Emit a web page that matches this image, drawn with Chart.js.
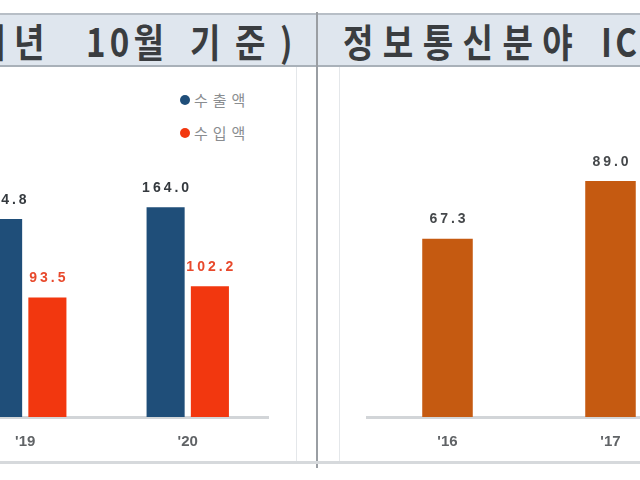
<!DOCTYPE html>
<html>
<head>
<meta charset="utf-8">
<script src="https://cdn.jsdelivr.net/npm/chart.js@4"></script>
<style>
  html, body { margin: 0; padding: 0; width: 640px; height: 480px; overflow: hidden; background: #fff; }
  .abs { position: absolute; }
  .band { left: 0; top: 13px; width: 640px; height: 50px; background: #dfe6ee;
          border-top: 2px solid #b7bec6; border-bottom: 2px solid #a9b1b9; }
  .title { top: 13px; font-family: "Noto Sans CJK KR", sans-serif; font-weight: bold;
           font-size: 39px; color: #3a3d40; white-space: pre; letter-spacing: 11px; line-height: 54px;
           transform: scaleX(0.85); transform-origin: left center; }
  .legend { font-family: "Noto Sans CJK KR", sans-serif; font-size: 15px; color: #8a8d90; left: 180px; letter-spacing: 5px; }
  .legend span { display: inline-block; width: 10px; height: 10px; border-radius: 50%; margin-right: 4px; vertical-align: 1px; }
</style>
</head>
<body>
<div class="abs band"></div>
<div class="abs" style="left:296px;top:67px;width:1px;height:395px;background:#e4e7ea"></div>
<div class="abs" style="left:339px;top:67px;width:1px;height:395px;background:#e4e7ea"></div>
<div class="abs" style="left:316px;top:12px;width:2px;height:456px;background:#9a9ea3"></div>
<div class="abs" style="left:0;top:461px;width:640px;height:3px;background:#d6d9dc"></div>

<div class="abs title" style="left:-25px;letter-spacing:10px">개년</div>
<div class="abs title" style="left:86px;letter-spacing:5px">10월</div>
<div class="abs title" style="left:190px;letter-spacing:17px">기준)</div>
<div class="abs title" style="left:343px">정보통신분야</div>
<div class="abs title" style="left:601px;letter-spacing:4px">IC</div>

<div class="abs legend" style="top:89px"><span style="background:#1f4e79"></span>수출액</div>
<div class="abs legend" style="top:122px"><span style="background:#f2370f"></span>수입액</div>

<div class="abs" style="left:-56px;top:91px"><canvas id="tradeChart" width="325" height="368"></canvas></div>
<div class="abs" style="left:366px;top:91px"><canvas id="ictChart" width="326" height="368"></canvas></div>

<script>
const tradeYears = ["'19", "'20"];
const exportValues = [154.8, 164.0];
const importValues = [93.5, 102.2];

const ictYears = ["'16", "'17"];
const ictValues = [67.3, 89.0];

// value labels above each bar
const valueLabels = {
  id: 'valueLabels',
  afterDatasetsDraw(chart) {
    const ctx = chart.ctx;
    ctx.save();
    ctx.font = 'bold 14px "Liberation Sans", Arial, sans-serif';
    ctx.letterSpacing = '3px';
    ctx.textAlign = 'center';
    ctx.textBaseline = 'middle';
    chart.data.datasets.forEach((ds, i) => {
      ctx.fillStyle = ds.labelColor;
      chart.getDatasetMeta(i).data.forEach((bar, j) => {
        ctx.fillText(ds.data[j].toFixed(1), bar.x + 1.5, bar.y - 19);
      });
    });
    ctx.restore();
  }
};

function axisOptions(yMax) {
  return {
    x: {
      grid: { display: false },
      border: { display: true, color: '#d2d5d8', width: 3 },
      ticks: { color: '#606366', padding: 8, font: { family: '"Liberation Sans", Arial, sans-serif', size: 15, weight: 'bold' } }
    },
    y: { display: false, min: 0, max: yMax }
  };
}

new Chart(document.getElementById('tradeChart'), {
  type: 'bar',
  data: {
    labels: tradeYears,
    datasets: [
      { label: '수출액', data: exportValues, backgroundColor: '#1f4e79', labelColor: '#34393e',
        categoryPercentage: 0.545, barPercentage: 0.86 },
      { label: '수입액', data: importValues, backgroundColor: '#f2370f', labelColor: '#e8492c',
        categoryPercentage: 0.545, barPercentage: 0.86 }
    ]
  },
  options: {
    responsive: false,
    animation: false,
    layout: { padding: 0 },
    plugins: { legend: { display: false }, tooltip: { enabled: false } },
    scales: axisOptions(255)
  },
  plugins: [valueLabels]
});

new Chart(document.getElementById('ictChart'), {
  type: 'bar',
  data: {
    labels: ictYears,
    datasets: [
      { label: 'ICT', data: ictValues, backgroundColor: '#c55a11', labelColor: '#45484b',
        categoryPercentage: 1, barPercentage: 0.31 }
    ]
  },
  options: {
    responsive: false,
    animation: false,
    layout: { padding: 0 },
    plugins: { legend: { display: false }, tooltip: { enabled: false } },
    scales: axisOptions(123)
  },
  plugins: [valueLabels]
});
</script>
</body>
</html>
